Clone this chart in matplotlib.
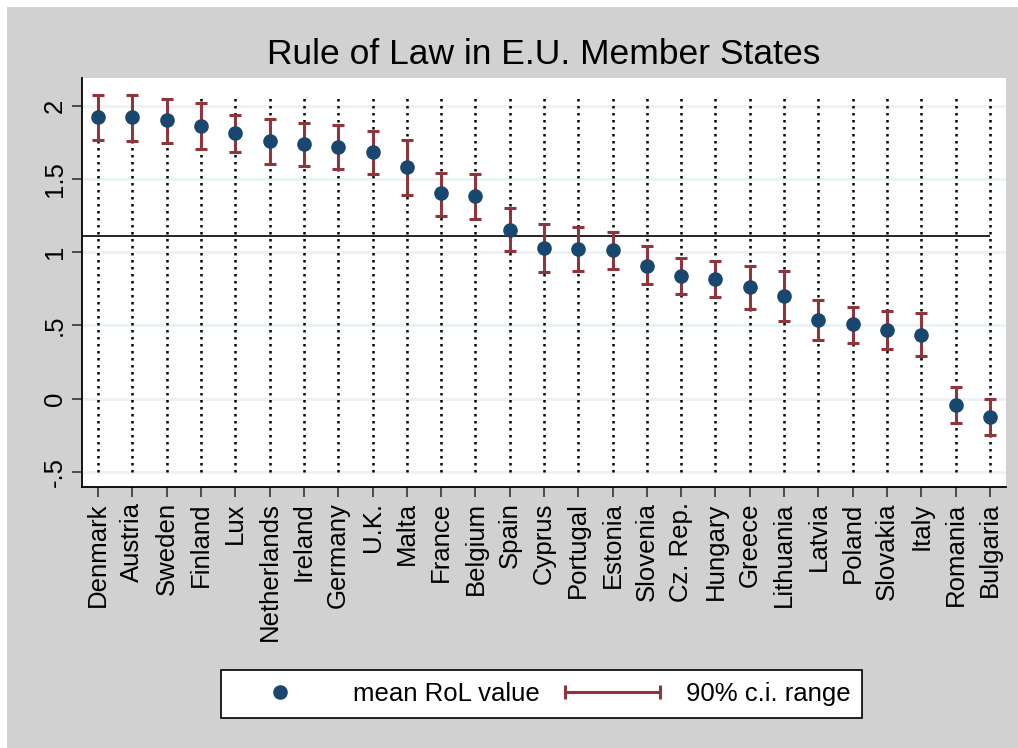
import matplotlib
matplotlib.use("Agg")
import matplotlib.pyplot as plt
from matplotlib.patches import Rectangle
from matplotlib.lines import Line2D
from matplotlib.legend_handler import HandlerBase

countries = ["Denmark", "Austria", "Sweden", "Finland", "Lux", "Netherlands", "Ireland",
             "Germany", "U.K.", "Malta", "France", "Belgium", "Spain", "Cyprus", "Portugal",
             "Estonia", "Slovenia", "Cz. Rep.", "Hungary", "Greece", "Lithuania", "Latvia",
             "Poland", "Slovakia", "Italy", "Romania", "Bulgaria"]
mean_rol = [1.92, 1.92, 1.90, 1.86, 1.814, 1.761, 1.739, 1.720, 1.684, 1.580, 1.402, 1.384,
            1.154, 1.029, 1.022, 1.018, 0.909, 0.838, 0.817, 0.762, 0.703, 0.539, 0.507,
            0.470, 0.438, -0.041, -0.125]
ci_high = [2.073, 2.071, 2.044, 2.016, 1.938, 1.909, 1.884, 1.868, 1.827, 1.766, 1.541, 1.536,
           1.304, 1.192, 1.170, 1.140, 1.041, 0.963, 0.941, 0.904, 0.872, 0.676, 0.628,
           0.598, 0.584, 0.082, -0.002]
ci_low = [1.763, 1.757, 1.748, 1.707, 1.684, 1.602, 1.586, 1.570, 1.532, 1.388, 1.249, 1.225,
          1.006, 0.863, 0.872, 0.888, 0.781, 0.712, 0.692, 0.610, 0.530, 0.402, 0.377,
          0.336, 0.292, -0.164, -0.251]
eu_mean = 1.11
y_ticks = [-0.5, 0, 0.5, 1, 1.5, 2]
y_ticklabels = ["-.5", "0", ".5", "1", "1.5", "2"]

NAVY = "#1A476F"
MAROON = "#90353B"
GREY = "#D1D1D1"

plt.rcParams['font.family'] = ['Liberation Sans', 'DejaVu Sans']

W, H = 1018, 748
fig = plt.figure(figsize=(W / 100, H / 100), dpi=100, facecolor="white")
fig.patches.append(Rectangle((7 / W, 0), 1 - 7 / W, (H - 7) / H, transform=fig.transFigure,
                             facecolor=GREY, edgecolor="none", zorder=-10))

ax = fig.add_axes([82 / W, (H - 487) / H, (1006 - 82) / W, (487 - 78) / H])
ax.set_facecolor("white")

x = list(range(1, len(countries) + 1))

for yt in y_ticks:
    ax.axhline(yt, color="#EAF2F3", lw=2, zorder=0)

ax.vlines(x, -0.5, 2.06, colors="black", linestyles=(0, (1, 1.8)), lw=1.8, zorder=1)
ax.hlines(eu_mean, 0.0, 27, colors="black", lw=1.2, zorder=2)

yerr = [[m - l for m, l in zip(mean_rol, ci_low)], [h - m for m, h in zip(mean_rol, ci_high)]]
ax.errorbar(x, mean_rol, yerr=yerr, fmt="none", ecolor=MAROON, elinewidth=2.2,
            capsize=4.6, capthick=2.2, zorder=3)
ax.plot(x, mean_rol, "o", color=NAVY, markersize=9.5, zorder=4, linestyle="none")

ax.set_xlim(0.53, 27.47)
ax.set_ylim(-0.603, 2.189)
ax.set_yticks(y_ticks)
ax.set_yticklabels(y_ticklabels, rotation=90, va="center", fontsize=18.5)
ax.set_xticks(x)
ax.set_xticklabels(countries, rotation=90, fontsize=18.5)
ax.tick_params(axis="both", length=7, width=1.3, color="#404040", pad=4)

for side in ["top", "right"]:
    ax.spines[side].set_visible(False)
for side in ["left", "bottom"]:
    ax.spines[side].set_color("black")
    ax.spines[side].set_linewidth(1.3)

fig.text(544 / W, (H - 54) / H, "Rule of Law in E.U. Member States",
         ha="center", va="center", fontsize=25.5)


class HandlerCI(HandlerBase):
    def create_artists(self, legend, orig_handle, xdescent, ydescent, width, height, fontsize, trans):
        yc = height / 2 - ydescent
        line = Line2D([-xdescent, -xdescent + width], [yc, yc], color=MAROON, lw=2.2, transform=trans)
        c1 = Line2D([-xdescent], [yc], marker="|", markersize=10, mew=2.2, color=MAROON, transform=trans)
        c2 = Line2D([-xdescent + width], [yc], marker="|", markersize=10, mew=2.2, color=MAROON, transform=trans)
        return [line, c1, c2]


mean_handle = Line2D([], [], marker="o", color=NAVY, markersize=9.5, linestyle="none")
ci_handle = object()
leg = fig.legend([mean_handle, ci_handle], ["mean RoL value", "90% c.i. range"],
                 handler_map={object: HandlerCI()}, ncol=2,
                 loc="center", bbox_to_anchor=(541.5 / W, (H - 694) / H),
                 fontsize=18.5, frameon=True, fancybox=False, framealpha=1,
                 edgecolor="black", facecolor="white", handlelength=3.7,
                 columnspacing=1.0, handletextpad=1.0, borderpad=0.45, borderaxespad=0)
leg.get_frame().set_linewidth(1.2)

fig.savefig("out.png", dpi=100, facecolor=fig.get_facecolor())
